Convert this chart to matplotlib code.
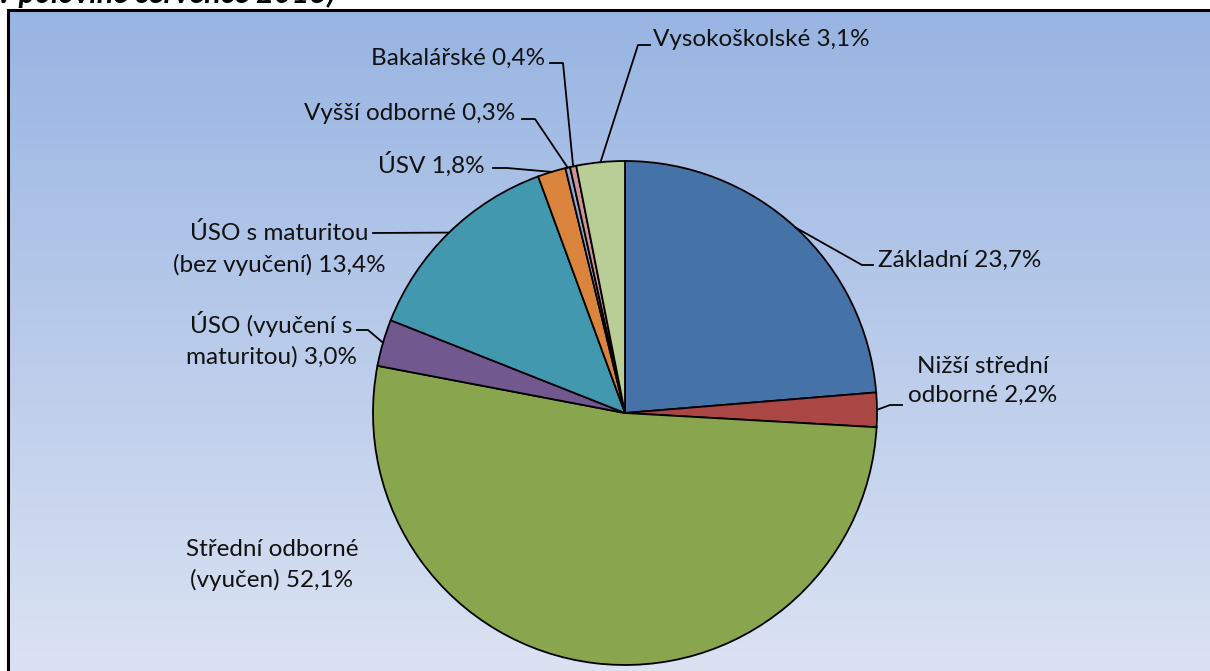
import numpy as np
import matplotlib
matplotlib.use("Agg")
import matplotlib.pyplot as plt

plt.rcParams['font.family'] = ['Lato', 'DejaVu Sans']

# data
labels = ["Základní", "Nižší střední\nodborné", "Střední odborné\n(vyučen)",
          "ÚSO (vyučení s\nmaturitou)", "ÚSO s maturitou\n(bez vyučení)", "ÚSV",
          "Vyšší odborné", "Bakalářské", "Vysokoškolské"]
values = [23.7, 2.2, 52.1, 3.0, 13.4, 1.8, 0.3, 0.4, 3.1]
colors = ["#4572A7", "#AA4643", "#89A54E", "#71588F", "#4198AF",
          "#DB843D", "#93A9CF", "#D19392", "#B9CD96"]
title = "v polovině července 2013)"

W, H = 1210, 671
fig = plt.figure(figsize=(W / 100, H / 100), dpi=100)
ax = fig.add_axes([0, 0, 1, 1])

def Y(y):  # image row -> axes y
    return H - y

cx, cy, r = 625, Y(413), 252
wedges, _ = ax.pie(values, colors=colors, startangle=90, counterclock=False,
                   center=(cx, cy), radius=r, frame=True,
                   wedgeprops=dict(edgecolor="black", linewidth=1.3))
ax.set_xlim(0, W)
ax.set_ylim(0, H)
ax.set_aspect("auto")
ax.axis("off")
for w in wedges:
    w.set_zorder(2)

# background gradient + chart frame (only top and left edges show)
grad = np.linspace(0, 1, 256).reshape(-1, 1)
top = np.array([152, 180, 226]) / 255.
bot = np.array([224, 230, 244]) / 255.
img = top + (bot - top) * grad[..., None]
ax.imshow(img, extent=[8, W + 50, Y(H + 50), Y(10)], aspect="auto", zorder=0)
ax.plot([8, 8, W + 50], [Y(H + 50), Y(10), Y(10)], color="black", lw=2.2,
        zorder=1, solid_joinstyle="miter")
ax.set_xlim(0, W)
ax.set_ylim(0, H)

ax.text(-3, Y(3), title, fontsize=22, fontweight="bold", style="italic",
        ha="left", va="baseline", zorder=3)

# label layout: text pos, ha, leader elbow, leader end (image px)
layout = [
    ((878, 260), "left", (862, 265), (873, 265)),
    ((983, 381), "center", (890, 405), (902, 405)),
    ((272, 565), "center", None, None),
    ((271, 339), "center", (368, 330), (357, 330)),
    ((279, 249), "center", None, (373, 233)),
    ((485, 164), "right", (507, 168), (493, 168)),
    ((515, 114), "right", (535, 119), (522, 119)),
    ((545, 58), "right", (563, 63), (550, 63)),
    ((653, 40), "left", (638, 45), (650, 45)),
]

for w, lab, v, (tp, ha, elbow, end) in zip(wedges, labels, values, layout):
    txt = f"{lab} {v:.1f}%".replace(".", ",")
    ax.text(tp[0], Y(tp[1]), txt, fontsize=17.5, ha=ha, va="center",
            multialignment="center", linespacing=1.5, color="#111111", zorder=3)
    if end is None:
        continue
    ang = np.deg2rad((w.theta1 + w.theta2) / 2)
    ex, ey = cx + r * np.cos(ang), cy + r * np.sin(ang)
    xs, ys = [ex], [ey]
    if elbow is not None:
        xs.append(elbow[0]); ys.append(Y(elbow[1]))
    xs.append(end[0]); ys.append(Y(end[1]))
    ax.plot(xs, ys, color="black", lw=1.3, zorder=3)

fig.savefig("out.png", dpi=100)
